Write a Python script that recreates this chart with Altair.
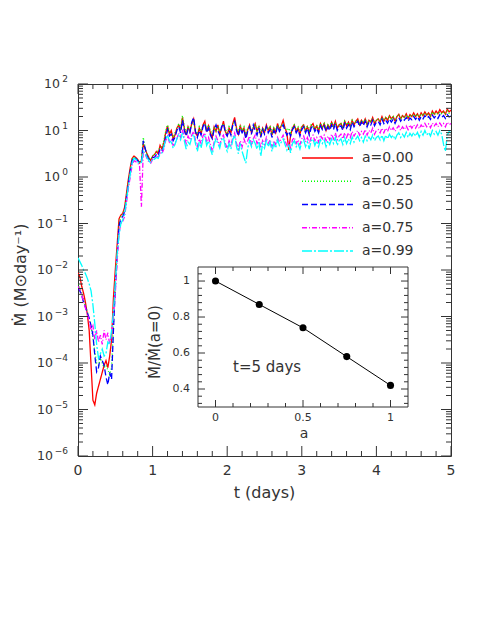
import altair as alt
import pandas as pd

FONT = "DejaVu Sans"
TXT = "#333333"

# ---------------- data ----------------
names = ["a=0.00", "a=0.25", "a=0.50", "a=0.75", "a=0.99"]
colors = ["#ff0000", "#00ff00", "#0000ff", "#ff00ff", "#00ffff"]
dashes = [[1, 0], [1, 2], [6, 3], [5, 2, 1, 2], [10, 2, 2, 2]]

# simulation output sampled every 0.025 days from t = 0 to t = 5
t_days = [round(0.025 * k, 3) for k in range(201)]

# log10 of accretion rate (Msun/day)
log_mdot_a000 = [
    -2.05, -2.15, -2.35, -2.5, -2.7, -2.95, -3.3, -4.05, -4.8, -4.9,
    -4.65, -4.5, -4.35, -4.2, -4.05, -3.95, -4.1, -3.85, -3.5, -2.6,
    -2.0, -1.45, -0.9, -0.82, -0.78, -0.65, -0.35, -0.05, 0.2, 0.4,
    0.45, 0.42, 0.38, 0.3, 0.35, 0.72, 0.6, 0.5, 0.42, 0.35, 0.45,
    0.48, 0.55, 0.5, 0.68, 0.6, 0.72, 0.95, 1.1, 0.92, 1.0,
    0.82, 0.9, 1.05, 1.12, 1.0, 1.28, 1.05, 0.9, 1.08, 0.98,
    1.15, 1.25, 0.95, 0.88, 1.05, 0.92, 1.12, 1.2, 0.98, 1.1,
    0.95, 0.85, 1.08, 0.98, 1.12, 0.92, 1.05, 1.2, 0.98, 0.9,
    1.05, 0.95, 1.15, 1.28, 1.05, 0.92, 1.1, 0.98, 1.05, 0.85,
    1.02, 1.12, 0.95, 1.05, 1.15, 0.98, 1.08, 0.88, 1.05, 0.95,
    1.12, 1.0, 1.08, 0.9, 1.05, 0.95, 1.15, 1.02, 1.1, 1.22,
    1.05, 0.95, 0.58, 0.9, 1.05, 1.12, 0.98, 1.05, 0.92, 1.08,
    1.12, 0.98, 1.08, 0.95, 1.1, 1.15, 1.02, 1.1, 0.98, 1.15,
    1.05, 1.15, 1.0, 1.12, 1.05, 1.18, 1.08, 1.2, 1.05, 1.12,
    1.15, 1.05, 1.2, 1.1, 1.18, 1.08, 1.22, 1.12, 1.2, 1.25,
    1.12, 1.22, 1.15, 1.25, 1.12, 1.22, 1.18, 1.28, 1.15, 1.22,
    1.25, 1.18, 1.3, 1.2, 1.28, 1.22, 1.32, 1.25, 1.3, 1.2,
    1.3, 1.35, 1.25, 1.32, 1.28, 1.36, 1.26, 1.34, 1.3, 1.38,
    1.3, 1.36, 1.28, 1.38, 1.32, 1.4, 1.33, 1.38, 1.3, 1.42,
    1.35, 1.42, 1.36, 1.45, 1.38, 1.42, 1.35, 1.46, 1.4, 1.44]
log_mdot_a025 = [
    -2.3, -2.38, -2.5, -2.65, -2.78, -2.9, -3.05, -3.22, -3.45, -3.75,
    -4.0, -4.05, -3.9, -4.0, -4.1, -4.05, -4.15, -4.25, -4.1, -3.2,
    -2.3, -1.6, -1.0, -0.85, -0.8, -0.7, -0.4, -0.1, 0.15, 0.38,
    0.43, 0.41, 0.37, 0.33, 0.36, 0.85, 0.62, 0.48, 0.4, 0.38, 0.45,
    0.5, 0.52, 0.58, 0.62, 0.66, 0.78, 0.98, 1.12, 0.98, 0.95,
    0.85, 0.95, 1.02, 1.15, 1.05, 1.32, 1.08, 0.95, 1.1, 1.02,
    1.1, 1.2, 1.0, 0.92, 1.08, 0.98, 1.1, 1.15, 1.02, 1.12,
    1.0, 0.92, 1.05, 1.0, 1.1, 0.98, 1.08, 1.15, 1.02, 0.95,
    1.08, 1.0, 1.12, 1.2, 1.05, 0.98, 1.12, 1.0, 1.08, 0.92,
    1.05, 1.1, 0.98, 1.08, 1.12, 1.0, 1.1, 0.95, 1.05, 1.0,
    1.08, 1.02, 1.1, 0.95, 1.08, 1.0, 1.12, 1.05, 1.1, 1.15,
    1.05, 1.0, 1.05, 0.95, 1.08, 1.12, 1.02, 1.08, 0.98, 1.1,
    1.12, 1.02, 1.1, 1.0, 1.12, 1.08, 1.05, 1.12, 1.02, 1.15,
    1.08, 1.15, 1.05, 1.12, 1.08, 1.18, 1.1, 1.15, 1.08, 1.12,
    1.15, 1.08, 1.2, 1.12, 1.18, 1.1, 1.22, 1.15, 1.2, 1.22,
    1.15, 1.22, 1.18, 1.25, 1.15, 1.22, 1.2, 1.26, 1.18, 1.22,
    1.25, 1.2, 1.28, 1.22, 1.28, 1.24, 1.3, 1.25, 1.3, 1.24,
    1.3, 1.33, 1.26, 1.32, 1.28, 1.34, 1.27, 1.33, 1.3, 1.35,
    1.3, 1.35, 1.3, 1.36, 1.32, 1.38, 1.33, 1.36, 1.32, 1.4,
    1.34, 1.38, 1.35, 1.4, 1.36, 1.39, 1.35, 1.42, 1.37, 1.4]
log_mdot_a050 = [
    -2.39, -2.45, -2.55, -2.7, -2.8, -2.92, -3.03, -3.2, -3.4, -3.83,
    -4.19, -4.1, -3.85, -3.95, -4.05, -4.3, -4.47, -4.2, -4.35, -3.3,
    -2.4, -1.7, -1.05, -0.9, -0.85, -0.75, -0.45, -0.15, 0.12, 0.35,
    0.42, 0.4, 0.35, 0.32, 0.3, 0.78, 0.62, 0.45, 0.38, 0.4, 0.42,
    0.42, 0.48, 0.45, 0.6, 0.56, 0.66, 0.85, 1.02, 0.88, 0.92,
    0.78, 0.85, 1.0, 1.08, 0.95, 1.22, 1.0, 0.88, 1.02, 0.95,
    1.18, 1.28, 0.98, 0.85, 1.0, 0.9, 1.08, 1.15, 0.95, 1.05,
    0.9, 0.82, 1.02, 1.12, 1.0, 0.9, 1.08, 1.15, 0.95, 0.88,
    1.0, 0.9, 1.12, 1.2, 1.0, 0.88, 1.05, 0.95, 1.02, 0.82,
    0.98, 1.08, 0.92, 1.12, 1.0, 0.9, 1.05, 0.85, 1.02, 0.92,
    1.08, 0.95, 1.02, 0.85, 1.0, 0.92, 1.1, 0.98, 1.05, 1.12,
    1.0, 0.9, 0.98, 0.88, 1.02, 1.08, 0.95, 1.02, 0.88, 1.02,
    1.08, 0.95, 1.05, 0.9, 1.05, 1.1, 0.98, 1.05, 0.95, 1.1,
    1.02, 1.1, 0.98, 1.08, 1.0, 1.12, 1.02, 1.15, 1.0, 1.08,
    1.1, 1.0, 1.15, 1.05, 1.12, 1.02, 1.18, 1.08, 1.15, 1.2,
    1.08, 1.18, 1.1, 1.2, 1.08, 1.18, 1.12, 1.22, 1.1, 1.18,
    1.2, 1.12, 1.24, 1.15, 1.22, 1.16, 1.25, 1.18, 1.24, 1.15,
    1.24, 1.28, 1.2, 1.26, 1.22, 1.28, 1.2, 1.27, 1.23, 1.3,
    1.24, 1.3, 1.22, 1.3, 1.25, 1.32, 1.26, 1.3, 1.24, 1.33,
    1.27, 1.32, 1.26, 1.34, 1.28, 1.32, 1.26, 1.34, 1.29, 1.31]
log_mdot_a075 = [
    -2.35, -2.42, -2.52, -2.68, -2.82, -2.95, -3.1, -3.3, -3.2, -3.5,
    -3.3, -3.55, -3.4, -3.6, -3.3, -3.5, -3.35, -3.6, -3.4, -3.0,
    -2.5, -1.8, -1.2, -1.0, -0.95, -0.85, -0.55, -0.25, 0.0, 0.25,
    0.35, 0.33, 0.3, 0.25, -0.64, 0.55, 0.5, 0.4, 0.32, 0.3, 0.38,
    0.4, 0.45, 0.42, 0.52, 0.5, 0.6, 0.78, 0.88, 0.75, 0.8,
    0.68, 0.72, 0.82, 0.95, 0.85, 1.02, 0.85, 0.72, 0.88, 0.8,
    0.9, 0.98, 0.78, 0.65, 0.82, 0.72, 0.88, 0.95, 0.75, 0.85,
    0.7, 0.55, 0.75, 0.88, 0.78, 0.68, 0.85, 0.9, 0.72, 0.62,
    0.78, 0.68, 0.85, 0.95, 0.72, 0.6, 0.78, 0.65, 0.82, 0.7,
    0.78, 0.88, 0.7, 0.82, 0.9, 0.72, 0.8, 0.62, 0.78, 0.7,
    0.85, 0.72, 0.8, 0.65, 0.78, 0.7, 0.85, 0.75, 0.82, 0.9,
    0.78, 0.68, 0.75, 0.62, 0.8, 0.85, 0.72, 0.8, 0.7, 0.82,
    0.88, 0.75, 0.85, 0.72, 0.85, 0.9, 0.78, 0.85, 0.75, 0.9,
    0.82, 0.9, 0.78, 0.88, 0.8, 0.92, 0.82, 0.95, 0.8, 0.88,
    0.92, 0.82, 0.95, 0.85, 0.95, 0.85, 0.98, 0.88, 0.95, 1.0,
    0.9, 0.98, 0.92, 1.02, 0.9, 1.0, 0.95, 1.05, 0.92, 1.0,
    1.02, 0.95, 1.05, 0.95, 1.05, 0.98, 1.08, 1.0, 1.06, 0.98,
    1.05, 1.1, 1.0, 1.08, 1.02, 1.1, 1.02, 1.12, 1.05, 1.12,
    1.05, 1.12, 1.04, 1.12, 1.06, 1.15, 1.08, 1.14, 1.06, 1.16,
    1.1, 1.15, 1.08, 1.16, 1.1, 1.15, 1.08, 1.18, 1.12, 1.15]
log_mdot_a099 = [
    -1.74, -1.82, -1.9, -2.0, -2.08, -2.18, -2.3, -2.45, -2.75, -3.15,
    -3.6, -3.9, -3.8, -3.7, -3.85, -3.8, -3.55, -3.6, -3.3, -2.9,
    -2.3, -1.65, -1.25, -1.0, -0.92, -0.8, -0.5, -0.2, 0.05, 0.3,
    0.4, 0.38, 0.33, 0.28, 0.32, 0.55, 0.5, 0.42, 0.35, 0.3, 0.4,
    0.38, 0.42, 0.4, 0.5, 0.52, 0.65, 0.8, 0.9, 0.78, 0.75,
    0.62, 0.7, 0.82, 0.9, 0.8, 0.95, 0.78, 0.6, 0.75, 0.7,
    0.85, 0.92, 0.72, 0.55, 0.75, 0.62, 0.82, 0.88, 0.68, 0.78,
    0.6, 0.48, 0.7, 0.82, 0.72, 0.62, 0.8, 0.85, 0.65, 0.55,
    0.72, 0.6, 0.8, 0.9, 0.65, 0.5, 0.72, 0.55, 0.42, 0.3,
    0.62, 0.78, 0.65, 0.8, 0.72, 0.6, 0.75, 0.45, 0.72, 0.62,
    0.78, 0.65, 0.75, 0.55, 0.72, 0.62, 0.8, 0.68, 0.75, 0.82,
    0.7, 0.58, 0.68, 0.52, 0.72, 0.78, 0.65, 0.72, 0.6, 0.75,
    0.8, 0.65, 0.75, 0.6, 0.78, 0.82, 0.68, 0.78, 0.65, 0.8,
    0.72, 0.8, 0.65, 0.78, 0.7, 0.82, 0.72, 0.85, 0.68, 0.78,
    0.82, 0.7, 0.85, 0.72, 0.82, 0.72, 0.86, 0.75, 0.82, 0.88,
    0.78, 0.85, 0.75, 0.88, 0.78, 0.86, 0.8, 0.9, 0.78, 0.85,
    0.88, 0.8, 0.9, 0.78, 0.9, 0.82, 0.92, 0.85, 0.9, 0.8,
    0.9, 0.95, 0.85, 0.92, 0.86, 0.96, 0.85, 0.94, 0.88, 0.96,
    0.88, 0.96, 0.86, 0.98, 0.9, 1.0, 0.9, 0.96, 0.88, 1.0,
    0.92, 0.98, 0.9, 1.0, 0.92, 0.7, 0.55, 0.9, 0.98, 0.95]

# inset: ratio of accretion rates at t = 5 days
spin_a = [0.0, 0.25, 0.5, 0.75, 1.0]
mdot_ratio = [1.0, 0.87, 0.74, 0.58, 0.42]

# axis ticks and labels
x_major = [0, 1, 2, 3, 4, 5]
x_major_lab = ["0", "1", "2", "3", "4", "5"]
x_minor = [0.2, 0.4, 0.6, 0.8, 1.2, 1.4, 1.6, 1.8, 2.2, 2.4, 2.6, 2.8,
           3.2, 3.4, 3.6, 3.8, 4.2, 4.4, 4.6, 4.8]
y_exps = [-6, -5, -4, -3, -2, -1, 0, 1, 2]
y_major = [10.0 ** e for e in y_exps]
y_minor = [m * 10.0 ** e for e in y_exps[:-1] for m in range(2, 10)]
y_exp_lab = [str(e).replace("-", "\u2212") for e in y_exps]

ix_major = [0, 0.5, 1]
ix_major_lab = ["0", "0.5", "1"]
ix_minor = [0.1, 0.2, 0.3, 0.4, 0.6, 0.7, 0.8, 0.9]
iy_major = [0.4, 0.6, 0.8, 1.0]
iy_major_lab = ["0.4", "0.6", "0.8", "1"]
iy_minor = [0.32, 0.36, 0.44, 0.48, 0.52, 0.56, 0.64, 0.68, 0.72, 0.76,
            0.84, 0.88, 0.92, 0.96, 1.04]

# ---------------- build ----------------
series = [log_mdot_a000, log_mdot_a025, log_mdot_a050, log_mdot_a075, log_mdot_a099]
rows = []
for nm, logs in zip(names, series):
    for t, v in zip(t_days, logs):
        rows.append({"t": t, "mdot": 10.0 ** v, "name": nm})
df = pd.DataFrame(rows)

W, H = 373, 372
xs = alt.Scale(domain=[0, 5], nice=False, zero=False)
ys = alt.Scale(type="log", domain=[1e-6, 1e2], nice=False)
cscale = alt.Scale(domain=names, range=colors)
dscale = alt.Scale(domain=names, range=dashes)

lines = alt.Chart(df).mark_line(strokeWidth=1.3, clip=True).encode(
    x=alt.X("t:Q", scale=xs, axis=None),
    y=alt.Y("mdot:Q", scale=ys, axis=None),
    color=alt.Color("name:N", scale=cscale, legend=None),
    strokeDash=alt.StrokeDash("name:N", scale=dscale, legend=None),
)


def xticks(vals, length, scale, y0, y1, field="t"):
    d = pd.DataFrame({field: vals})
    base = alt.Chart(d).mark_rule(color=TXT, strokeWidth=1)
    return [
        base.encode(x=alt.X(f"{field}:Q", scale=scale, axis=None), y=alt.value(y0), y2=alt.value(y0 - length)),
        base.encode(x=alt.X(f"{field}:Q", scale=scale, axis=None), y=alt.value(y1), y2=alt.value(y1 + length)),
    ]


def yticks(vals, length, scale, x0, x1, field="mdot"):
    d = pd.DataFrame({field: vals})
    base = alt.Chart(d).mark_rule(color=TXT, strokeWidth=1)
    return [
        base.encode(y=alt.Y(f"{field}:Q", scale=scale, axis=None), x=alt.value(x0), x2=alt.value(x0 + length)),
        base.encode(y=alt.Y(f"{field}:Q", scale=scale, axis=None), x=alt.value(x1), x2=alt.value(x1 - length)),
    ]


def text_layer(s, size, x, y, angle=0, align="center"):
    kw = dict(font=FONT, fontSize=size, color=TXT, baseline="middle", align=align)
    if angle:
        kw["angle"] = angle
    return alt.Chart(pd.DataFrame({"s": [s]})).mark_text(**kw).encode(
        x=alt.value(x), y=alt.value(y), text="s:N")


main_layers = [lines]
main_layers += xticks(x_major, 10, xs, H, 0)
main_layers += xticks(x_minor, 5, xs, H, 0)
main_layers += yticks(y_major, 10, ys, 0, W)
main_layers += yticks(y_minor, 5, ys, 0, W)
main_layers.append(
    alt.Chart(pd.DataFrame({"t": x_major, "lab": x_major_lab})).mark_text(
        font=FONT, fontSize=14, color=TXT, baseline="middle", align="center").encode(
        x=alt.X("t:Q", scale=xs, axis=None), y=alt.value(H + 15), text="lab:N"))

# y tick labels: "10" plus a raised exponent
ylab = pd.DataFrame({"mdot": y_major, "e": y_exps, "exp": y_exp_lab, "ten": ["10"] * len(y_exps)})
ybase = alt.Chart(ylab)
main_layers.append(
    ybase.transform_filter("datum.e < 0").mark_text(
        font=FONT, fontSize=12.5, color=TXT, baseline="middle", align="right").encode(
        y=alt.Y("mdot:Q", scale=ys, axis=None), x=alt.value(-25), text="ten:N"))
main_layers.append(
    ybase.transform_filter("datum.e >= 0").mark_text(
        font=FONT, fontSize=12.5, color=TXT, baseline="middle", align="right").encode(
        y=alt.Y("mdot:Q", scale=ys, axis=None), x=alt.value(-18), text="ten:N"))
main_layers.append(
    ybase.mark_text(font=FONT, fontSize=9, color=TXT, baseline="middle", align="right", dy=-5).encode(
        y=alt.Y("mdot:Q", scale=ys, axis=None), x=alt.value(-10), text="exp:N"))

main_layers.append(text_layer("t (days)", 16, W / 2, H + 37))
main_layers.append(text_layer("\u1e40 (M\u2299day\u207b\u00b9)", 16, -57, H / 2 + 5, angle=270))
main = alt.layer(*main_layers)

# ---------------- inset ----------------
IX0, IX1, IY0, IY1 = 120, 330, 323, 183
ixs = alt.Scale(domain=[-0.1, 1.1], range=[IX0, IX1], nice=False, zero=False)
iys = alt.Scale(domain=[0.3, 1.078], range=[IY0, IY1], nice=False, zero=False)
one = pd.DataFrame({"k": [0]})
frame = alt.Chart(one).mark_rect(fill="white", stroke=TXT, strokeWidth=1).encode(
    x=alt.XDatum(-0.1, scale=ixs, axis=None), x2=alt.X2Datum(1.1),
    y=alt.YDatum(0.3, scale=iys, axis=None), y2=alt.Y2Datum(1.078),
)
rdf = pd.DataFrame({"a": spin_a, "ratio": mdot_ratio})
iline = alt.Chart(rdf).mark_line(color="black", strokeWidth=1).encode(
    x=alt.X("a:Q", scale=ixs, axis=None), y=alt.Y("ratio:Q", scale=iys, axis=None))
ipts = alt.Chart(rdf).mark_circle(color="black", size=50, opacity=1).encode(
    x=alt.X("a:Q", scale=ixs, axis=None), y=alt.Y("ratio:Q", scale=iys, axis=None))

inset_layers = [frame]
inset_layers += xticks(ix_major, 7, ixs, IY0, IY1, field="a")
inset_layers += xticks(ix_minor, 4, ixs, IY0, IY1, field="a")
inset_layers += yticks(iy_major, 7, iys, IX0, IX1, field="ratio")
inset_layers += yticks(iy_minor, 4, iys, IX0, IX1, field="ratio")
inset_layers += [iline, ipts]

ixl = alt.Chart(pd.DataFrame({"a": ix_major, "lab": ix_major_lab})).mark_text(
    font=FONT, fontSize=11, color=TXT, baseline="middle", align="center").encode(
    x=alt.X("a:Q", scale=ixs, axis=None), y=alt.value(IY0 + 11), text="lab:N")
iyl = alt.Chart(pd.DataFrame({"ratio": iy_major, "lab": iy_major_lab})).mark_text(
    font=FONT, fontSize=11, color=TXT, baseline="middle", align="right").encode(
    y=alt.Y("ratio:Q", scale=iys, axis=None), x=alt.value(IX0 - 8), text="lab:N")
inset_layers += [ixl, iyl,
                 text_layer("a", 14, (IX0 + IX1) / 2 + 1, IY0 + 27),
                 text_layer("\u1e40/\u1e40(a=0)", 15, IX0 - 43, (IY0 + IY1) / 2 + 5, angle=270),
                 text_layer("t=5 days", 15, IX0 + 35, IY0 - 40, align="left")]
inset = alt.layer(*inset_layers)

# ---------------- legend ----------------
ldf = pd.DataFrame({"name": names})
ly = alt.Y("name:N", scale=alt.Scale(type="point", domain=names, range=[74, 167], padding=0), axis=None)
leg_lines = alt.Chart(ldf).mark_rule(strokeWidth=1.3).encode(
    y=ly, x=alt.value(224), x2=alt.value(275),
    color=alt.Color("name:N", scale=cscale, legend=None),
    strokeDash=alt.StrokeDash("name:N", scale=dscale, legend=None))
leg_text = alt.Chart(ldf).mark_text(font=FONT, fontSize=14, color=TXT, align="left",
                                    baseline="middle").encode(
    y=ly, x=alt.value(284), text="name:N")
legend = alt.layer(leg_lines, leg_text)

chart = alt.layer(main, inset, legend).resolve_scale(
    x="independent", y="independent"
).properties(
    width=W, height=H, autosize="none",
    padding={"left": 70, "top": 76, "right": 30, "bottom": 171},
).configure_view(stroke=TXT, strokeWidth=1)

chart.save("out.html", embed_options={"renderer": "svg", "actions": False})
